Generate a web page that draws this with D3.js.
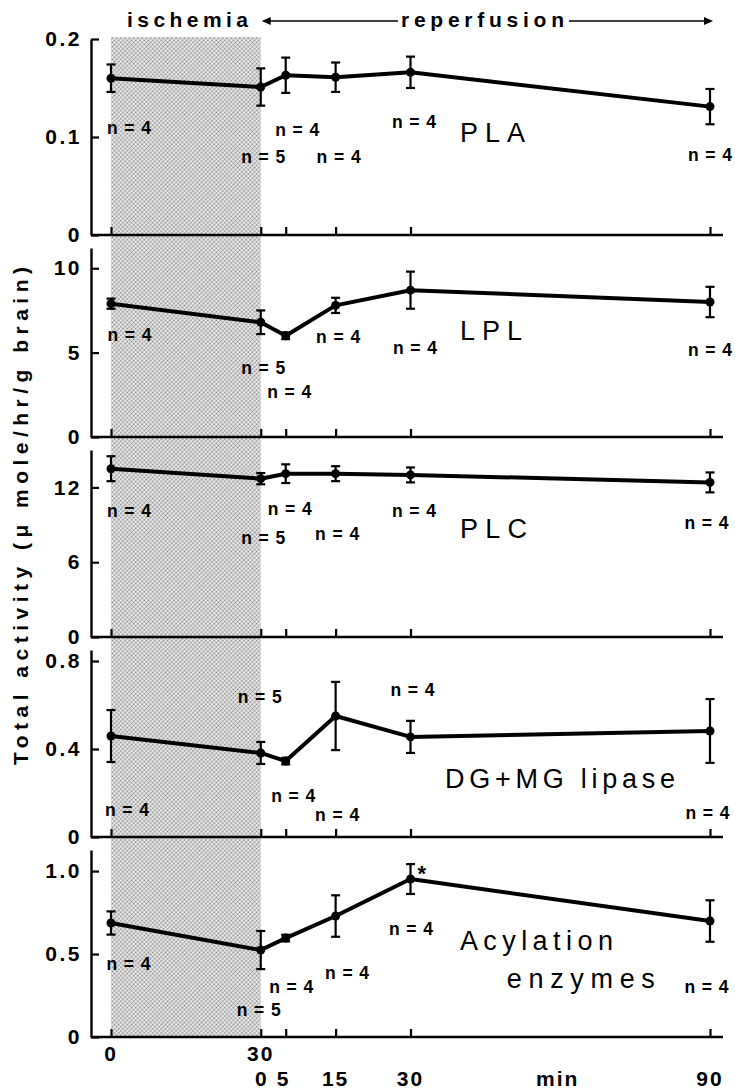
<!DOCTYPE html>
<html>
<head>
<meta charset="utf-8">
<script src="https://cdn.jsdelivr.net/npm/d3@7"></script>
<style>
  body { margin: 0; background: #fff; }
  svg { font-family: "Liberation Sans", Arial, Helvetica, sans-serif; }
</style>
</head>
<body>
<svg id="chart"></svg>
<script>
// time in min: ischemia 0..30 is -30..0, reperfusion 0..90
const times = [-30, 0, 5, 15, 30, 90]
const nCounts = [4, 5, 4, 4, 4, 4]

// mean activity and error (umole/hr/g brain)
const pla = [0.160, 0.151, 0.163, 0.161, 0.166, 0.131]
const plaErr = [0.014, 0.019, 0.018, 0.015, 0.016, 0.018]
const lpl = [7.9, 6.8, 6.0, 7.8, 8.7, 8.0]
const lplErr = [0.3, 0.7, 0.2, 0.45, 1.1, 0.9]
const plc = [13.5, 12.7, 13.1, 13.1, 13.0, 12.4]
const plcErr = [1.0, 0.45, 0.75, 0.6, 0.6, 0.8]
const dgmg = [0.459, 0.382, 0.345, 0.55, 0.455, 0.482]
const dgmgErr = [0.118, 0.05, 0.015, 0.155, 0.073, 0.145]
const acyl = [0.687, 0.524, 0.596, 0.729, 0.952, 0.699]
const acylErr = [0.07, 0.115, 0.02, 0.125, 0.09, 0.125]

const panelNames = [["PLA"], ["LPL"], ["PLC"], ["DG+MG lipase"], ["Acylation", "enzymes"]]
const panelTicks = [[0, 0.1, 0.2], [0, 5, 10], [0, 6, 12], [0, 0.4, 0.8], [0, 0.5, 1.0]]
const panelTickLabels = [["0", "0.1", "0.2"], ["0", "5", "10"], ["0", "6", "12"], ["0", "0.4", "0.8"], ["0", "0.5", "1.0"]]
const panelMax = [0.2, 11.2, 15, 0.85, 1.127]

const ischemiaTicks = ["0", "30"]
const reperfusionTicks = ["0", "5", "15", "30", "90"]

// annotation anchors in [time, value] of each panel
const nLabelAt = [
  [[-26.4, 0.109], [0.5, 0.080], [7.3, 0.107], [15.6, 0.080], [30.7, 0.116], [90, 0.082]],
  [[-26.3, 6.09], [0.5, 4.08], [5.7, 2.66], [15.5, 5.92], [30.9, 5.27], [90, 5.15]],
  [[-26.4, 10.16], [0.5, 8.0], [5.8, 10.32], [15.3, 8.32], [30.7, 10.16], [89.3, 9.2]],
  [[-26.8, 0.123], [-0.2, 0.636], [6.5, 0.186], [15.3, 0.10], [30.4, 0.668], [89.5, 0.109]],
  [[-26.5, 0.44], [-0.4, 0.163], [6.1, 0.301], [17.3, 0.386], [30.1, 0.651], [89.3, 0.301]],
]
const nameAt = [
  [[39.9, 0.105]],
  [[39.9, 6.33]],
  [[39.9, 8.72]],
  [[36.9, 0.268]],
  [[39.9, 0.584], [49.3, 0.355]],
]
const nameWidth = [[65], [62], [67], [230], [153, 148]]

const means = [pla, lpl, plc, dgmg, acyl]
const errs = [plaErr, lplErr, plcErr, dgmgErr, acylErr]

// layout
const W = 735, H = 1092
const axisX = 91
const panelTop = [39, 248, 450, 650, 850]
const panelBottom = [235, 437, 637, 837, 1037]

const svg = d3.select("#chart").attr("width", W).attr("height", H)

const x = d3.scaleLinear().domain([-30, 90]).range([111, 710])

// stipple pattern for ischemia band
const pat = svg.append("defs").append("pattern")
  .attr("id", "stipple")
  .attr("width", 3).attr("height", 3)
  .attr("patternUnits", "userSpaceOnUse")
  .attr("patternTransform", "rotate(45)")
pat.append("rect").attr("width", 3).attr("height", 3).attr("fill", "#ececec")
pat.append("circle").attr("cx", 1.5).attr("cy", 1.5).attr("r", 0.9).attr("fill", "#808080")

svg.append("rect")
  .attr("x", x(-30)).attr("y", 37)
  .attr("width", x(0) - x(-30))
  .attr("height", panelBottom[4] - 37)
  .attr("fill", "url(#stipple)")

panelNames.forEach((names, p) => {
  const y = d3.scaleLinear().domain([0, panelMax[p]]).range([panelBottom[p], panelTop[p]])
  const g = svg.append("g")

  // y axis, ticks inside
  const yAxis = g.append("g")
    .attr("transform", `translate(${axisX},0)`)
    .call(d3.axisLeft(y)
      .tickValues(panelTicks[p])
      .tickSize(-8)
      .tickSizeOuter(0)
      .tickPadding(9)
      .tickFormat((d, i) => panelTickLabels[p][i]))
  yAxis.select(".domain").attr("stroke-width", 2.4)
  yAxis.selectAll(".tick line").attr("stroke-width", 2.2)
  yAxis.selectAll(".tick text")
    .attr("font-size", 21).attr("font-weight", "bold")
    .attr("letter-spacing", 2.5).attr("fill", "#000")

  // x axis, ticks pointing up
  g.append("line")
    .attr("x1", axisX).attr("x2", 723)
    .attr("y1", panelBottom[p]).attr("y2", panelBottom[p])
    .attr("stroke", "#000").attr("stroke-width", 2.4)
  const xAxis = g.append("g")
    .attr("transform", `translate(0,${panelBottom[p]})`)
    .call(d3.axisBottom(x).tickValues(times).tickSize(-8).tickSizeOuter(0).tickFormat(""))
  xAxis.select(".domain").remove()
  xAxis.selectAll(".tick line").attr("stroke-width", 2.2)

  const pts = times.map((t, i) => ({ t, v: means[p][i], e: errs[p][i] }))

  // error bars
  const eb = g.selectAll(".err").data(pts).join("g").attr("class", "err")
  eb.append("line")
    .attr("x1", (d) => x(d.t)).attr("x2", (d) => x(d.t))
    .attr("y1", (d) => y(d.v - d.e)).attr("y2", (d) => y(d.v + d.e))
    .attr("stroke", "#000").attr("stroke-width", 2.2)
  eb.append("line")
    .attr("x1", (d) => x(d.t) - 4.5).attr("x2", (d) => x(d.t) + 4.5)
    .attr("y1", (d) => y(d.v + d.e)).attr("y2", (d) => y(d.v + d.e))
    .attr("stroke", "#000").attr("stroke-width", 2.2)
  eb.append("line")
    .attr("x1", (d) => x(d.t) - 4.5).attr("x2", (d) => x(d.t) + 4.5)
    .attr("y1", (d) => y(d.v - d.e)).attr("y2", (d) => y(d.v - d.e))
    .attr("stroke", "#000").attr("stroke-width", 2.2)

  // mean line
  g.append("path")
    .datum(pts)
    .attr("fill", "none").attr("stroke", "#000")
    .attr("stroke-width", 4).attr("stroke-linejoin", "round")
    .attr("d", d3.line().x((d) => x(d.t)).y((d) => y(d.v)))

  g.selectAll(".dot").data(pts).join("circle")
    .attr("class", "dot")
    .attr("cx", (d) => x(d.t)).attr("cy", (d) => y(d.v))
    .attr("r", 4.5).attr("fill", "#000")

  // n labels
  g.selectAll(".nlab").data(nLabelAt[p]).join("text")
    .attr("class", "nlab")
    .attr("x", (d) => x(d[0])).attr("y", (d) => y(d[1]))
    .attr("dy", "0.36em")
    .attr("text-anchor", "middle")
    .attr("font-size", 17.5).attr("font-weight", "bold")
    .attr("textLength", 44).attr("lengthAdjust", "spacing")
    .text((d, i) => "n=" + nCounts[i])

  // enzyme name
  g.selectAll(".name").data(names).join("text")
    .attr("class", "name")
    .attr("x", (d, i) => x(nameAt[p][i][0])).attr("y", (d, i) => y(nameAt[p][i][1]))
    .attr("dy", "0.36em")
    .attr("font-size", 27)
    .attr("textLength", (d, i) => nameWidth[p][i]).attr("lengthAdjust", "spacing")
    .text((d) => d)

  if (p === 4) {
    // significance mark at reperfusion 30 min
    g.append("text")
      .attr("x", x(30) + 7).attr("y", y(acyl[4] + acylErr[4]))
      .attr("dy", "0.75em")
      .attr("font-size", 22).attr("font-weight", "bold")
      .text("*")
  }
})

// bottom time labels, two rows
const tickFont = (sel) => sel.attr("font-size", 21).attr("font-weight", "bold")
  .attr("letter-spacing", 2).attr("text-anchor", "middle")
svg.selectAll(".ilab").data(ischemiaTicks).join("text")
  .attr("class", "ilab")
  .attr("x", (d, i) => x([-30, 0][i])).attr("y", 1061)
  .call(tickFont).text((d) => d)
svg.selectAll(".rlab").data(reperfusionTicks).join("text")
  .attr("class", "rlab")
  .attr("x", (d, i) => x([0, 5, 15, 30, 90][i]) + [1, -2, 0, 0, 0][i]).attr("y", 1086)
  .call(tickFont).text((d) => d)
svg.append("text")
  .attr("x", x(59.5)).attr("y", 1086)
  .call(tickFont).text("min")

// header: ischemia <-- reperfusion -->
svg.append("text")
  .attr("x", 127).attr("y", 27)
  .attr("font-size", 21).attr("font-weight", "bold")
  .attr("textLength", 121).attr("lengthAdjust", "spacing")
  .text("ischemia")
svg.append("text")
  .attr("x", 401).attr("y", 27)
  .attr("font-size", 21).attr("font-weight", "bold")
  .attr("textLength", 163).attr("lengthAdjust", "spacing")
  .text("reperfusion")
const arrowY = 21
svg.append("line").attr("x1", x(0) + 4).attr("x2", 398)
  .attr("y1", arrowY).attr("y2", arrowY).attr("stroke", "#000").attr("stroke-width", 1.6)
svg.append("line").attr("x1", 569).attr("x2", 706)
  .attr("y1", arrowY).attr("y2", arrowY).attr("stroke", "#000").attr("stroke-width", 1.6)
svg.append("path")
  .attr("d", `M${x(0) + 1},${arrowY} l9,-4 v8 z`).attr("fill", "#000")
svg.append("path")
  .attr("d", `M${x(90) + 3},${arrowY} l-9,-4 v8 z`).attr("fill", "#000")

// y title
svg.append("text")
  .attr("transform", "translate(28,516) rotate(-90)")
  .attr("text-anchor", "middle")
  .attr("font-size", 21).attr("font-weight", "bold")
  .attr("textLength", 498).attr("lengthAdjust", "spacing")
  .text("Total activity (\u03bc mole/hr/g brain)")

svg.selectAll(".domain, .tick line").attr("stroke", "#000")
</script>
</body>
</html>
